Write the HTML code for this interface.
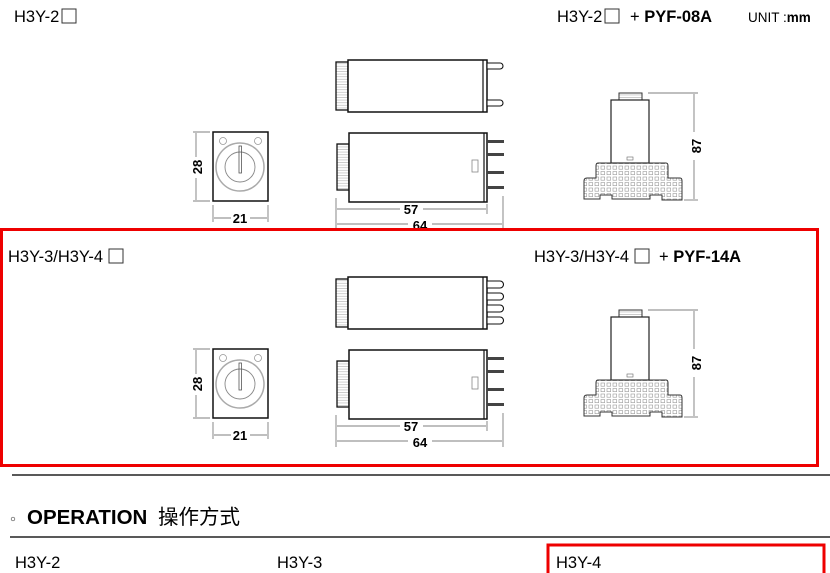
<!DOCTYPE html>
<html><head><meta charset="utf-8"><style>
html,body{margin:0;padding:0;background:#fff;}
svg{display:block;}
text{font-family:"Liberation Sans","Noto Sans CJK SC",sans-serif;}
</style></head><body>
<svg width="830" height="573" viewBox="0 0 830 573" xmlns="http://www.w3.org/2000/svg">
<defs>
<pattern id="grid" x="0" y="0" width="6" height="5.5" patternUnits="userSpaceOnUse">
<rect x="1" y="1" width="3.6" height="3.2" fill="none" stroke="#999" stroke-width="0.6"/>
</pattern>
<pattern id="knurl" x="0" y="0" width="12" height="2.6" patternUnits="userSpaceOnUse">
<line x1="0" y1="1.3" x2="12" y2="1.3" stroke="#bbb" stroke-width="0.7"/>
</pattern>
<g id="draw">
 <rect x="336" y="62" width="12" height="48" fill="url(#knurl)" stroke="#111" stroke-width="1.3"/>
 <rect x="348" y="60" width="139" height="52" fill="#fff" stroke="#111" stroke-width="1.5"/>
 <line x1="483" y1="60" x2="483" y2="112" stroke="#111" stroke-width="1.2"/>
 <rect x="337" y="144" width="12" height="46" fill="url(#knurl)" stroke="#111" stroke-width="1.3"/>
 <rect x="349" y="133" width="138" height="69" fill="#fff" stroke="#111" stroke-width="1.5"/>
 <line x1="484" y1="133" x2="484" y2="202" stroke="#111" stroke-width="1.2"/>
 <rect x="472" y="160" width="6" height="12" fill="none" stroke="#888" stroke-width="0.8"/>
 <g fill="#444"><rect x="487" y="140" width="17" height="3"/><rect x="487" y="153" width="17" height="3"/><rect x="487" y="171" width="17" height="3"/><rect x="487" y="186" width="17" height="3"/></g>
 <rect x="213" y="132" width="55" height="69" fill="#fff" stroke="#111" stroke-width="1.5"/>
 <circle cx="223" cy="141" r="3.5" fill="none" stroke="#999" stroke-width="0.8"/>
 <circle cx="258" cy="141" r="3.5" fill="none" stroke="#999" stroke-width="0.8"/>
 <circle cx="240" cy="167" r="24" fill="none" stroke="#aaa" stroke-width="1.5"/>
 <circle cx="240" cy="167" r="15" fill="none" stroke="#888" stroke-width="0.9"/>
 <rect x="239" y="146" width="2.5" height="27" fill="none" stroke="#555" stroke-width="0.8"/>
 <g stroke="#555" stroke-width="0.7">
  <line x1="193" y1="132" x2="210" y2="132"/><line x1="193" y1="201" x2="210" y2="201"/>
  <line x1="196" y1="133" x2="196" y2="157"/><line x1="196" y1="178" x2="196" y2="200"/>
  <line x1="213" y1="205" x2="213" y2="222"/><line x1="268" y1="205" x2="268" y2="222"/>
  <line x1="214" y1="218" x2="231" y2="218"/><line x1="250" y1="218" x2="267" y2="218"/>
  <line x1="336" y1="198" x2="336" y2="230"/><line x1="487" y1="204" x2="487" y2="214"/><line x1="503" y1="196" x2="503" y2="230"/>
  <line x1="337" y1="209" x2="400" y2="209"/><line x1="423" y1="209" x2="486" y2="209"/>
  <line x1="337" y1="224" x2="408" y2="224"/><line x1="432" y1="224" x2="502" y2="224"/>
 </g>
 <text x="240" y="223" font-size="13" font-weight="bold" text-anchor="middle">21</text>
 <text transform="translate(202,167) rotate(-90)" font-size="13" font-weight="bold" text-anchor="middle">28</text>
 <text x="411" y="214" font-size="13" font-weight="bold" text-anchor="middle">57</text>
 <text x="420" y="230" font-size="13" font-weight="bold" text-anchor="middle">64</text>
 <rect x="619" y="93" width="23" height="7" fill="url(#knurl)" stroke="#333" stroke-width="1"/>
 <rect x="611" y="100" width="38" height="63" fill="#fff" stroke="#222" stroke-width="1.2"/>
 <rect x="627" y="157" width="6" height="3" fill="none" stroke="#666" stroke-width="0.6"/>
 <path d="M598 163 H666 Q668 163 668 166 V178 H680 Q682 178 682 181 V200 H662 V195 H650 V199 H612 V195 H600 V199 H584 V181 Q584 178 587 178 H596 V166 Q596 163 598 163 Z" fill="url(#grid)" stroke="#333" stroke-width="1"/>
 <g stroke="#555" stroke-width="0.7">
  <line x1="648" y1="93" x2="698" y2="93"/><line x1="684" y1="200" x2="698" y2="200"/>
  <line x1="694" y1="94" x2="694" y2="132"/><line x1="694" y1="160" x2="694" y2="199"/>
 </g>
 <text transform="translate(701,146) rotate(-90)" font-size="13" font-weight="bold" text-anchor="middle">87</text>
</g>
</defs>

<text x="14" y="22" font-size="16.5">H3Y-2</text>
<rect x="62" y="9" width="14" height="14" fill="none" stroke="#333" stroke-width="1"/>
<text x="557" y="22" font-size="16.5">H3Y-2</text>
<rect x="605" y="9" width="14" height="14" fill="none" stroke="#333" stroke-width="1"/>
<text x="630" y="22" font-size="16.5">+ <tspan font-weight="bold">PYF-08A</tspan></text>
<text x="748" y="22" font-size="13.5">UNIT :<tspan font-weight="bold">mm</tspan></text>
<use href="#draw"/>
<g fill="#fff" stroke="#111" stroke-width="1.1">
 <path d="M487 63 H500 A3 3 0 0 1 500 69 H487 Z"/>
 <path d="M487 100 H500 A3 3 0 0 1 500 106 H487 Z"/>
</g>

<rect x="1.5" y="229.5" width="816" height="236" fill="none" stroke="#e00" stroke-width="3"/>

<text x="8" y="262" font-size="16.5">H3Y-3/H3Y-4</text>
<rect x="109" y="249" width="14" height="14" fill="none" stroke="#333" stroke-width="1"/>
<text x="534" y="262" font-size="16.5">H3Y-3/H3Y-4</text>
<rect x="635" y="249" width="14" height="14" fill="none" stroke="#333" stroke-width="1"/>
<text x="659" y="262" font-size="16.5">+ <tspan font-weight="bold">PYF-14A</tspan></text>
<g transform="translate(0,217)"><use href="#draw"/></g>
<g fill="#fff" stroke="#111" stroke-width="1.1">
 <path d="M487 281 H500 A3 3 0 0 1 500 288 H487 Z"/>
 <path d="M487 293 H500 A3 3 0 0 1 500 300 H487 Z"/>
 <path d="M487 305 H500 A3 3 0 0 1 500 312 H487 Z"/>
 <path d="M487 317 H500 A3 3 0 0 1 500 324 H487 Z"/>
</g>

<line x1="12" y1="475" x2="830" y2="475" stroke="#222" stroke-width="1.5"/>
<circle cx="13" cy="519" r="1.8" fill="none" stroke="#555" stroke-width="0.7"/>
<text x="27" y="524" font-size="20.5" font-weight="bold">OPERATION</text>
<text x="158" y="524" font-size="20.5" font-family="'Noto Sans CJK SC',sans-serif">操作方式</text>
<line x1="10" y1="537" x2="830" y2="537" stroke="#222" stroke-width="1.5"/>
<text x="15" y="568" font-size="16.5">H3Y-2</text>
<text x="277" y="568" font-size="16.5">H3Y-3</text>
<rect x="548" y="545" width="276" height="40" fill="none" stroke="#e00" stroke-width="3"/>
<text x="556" y="568" font-size="16.5">H3Y-4</text>
</svg>
</body></html>
